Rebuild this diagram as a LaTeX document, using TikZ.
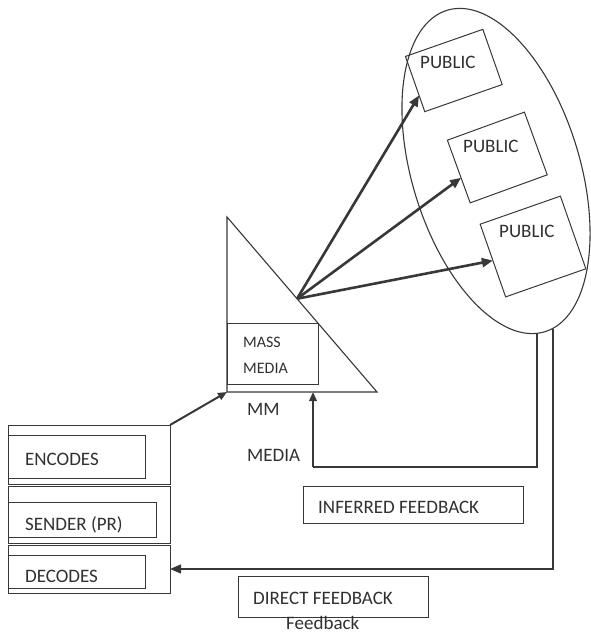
\documentclass[tikz,border=0pt]{standalone}
\usepackage{fontspec}
\setmainfont{Carlito}
\usetikzlibrary{arrows.meta,calc,shapes.geometric}
\definecolor{ink}{HTML}{383838}
\definecolor{txt}{HTML}{303030}
\begin{document}
\begin{tikzpicture}[x=1pt,y=-1pt,
  lbl/.style={font=\fontsize{19}{22}\selectfont, text=txt, inner sep=0pt, anchor=base west},
  smalllbl/.style={font=\fontsize{16}{19}\selectfont, text=txt, inner sep=0pt, anchor=base west},
  box/.style={draw=ink, line width=1pt, inner sep=0pt, outer sep=0pt},
  thinline/.style={draw=ink, line width=1.1pt},
  bigarrow/.style={draw=ink, line width=2.6pt, -{Triangle[length=11pt,width=9pt]}},
  midarrow/.style={draw=ink, line width=2pt, -{Triangle[length=9pt,width=7.5pt]}},
  fbarrow/.style={draw=ink, line width=1.4pt, -{Triangle[length=11pt,width=9pt]}}
]
\useasboundingbox (0,0) rectangle (591,634);

% ---- sender column ----
\node[box, minimum width=162pt, minimum height=59pt] (cell1) at (89,454.5) {};
\node[box, minimum width=162pt, minimum height=57pt] (cell2) at (89,514.5) {};
\node[box, minimum width=162pt, minimum height=48pt] (cell3) at (89,569) {};
\node[box, minimum width=137pt, minimum height=43pt] (enc) at (76.5,456.5) {};
\node[box, minimum width=148pt, minimum height=35pt] (snd) at (82,519.5) {};
\node[box, minimum width=137pt, minimum height=33pt] (dec) at (76.5,571.5) {};
\node[lbl] (encT) at (25,465) {ENCODES};
\node[lbl] (sndT) at (25,530) {SENDER (PR)};
\node[lbl] (decT) at (25,582) {DECODES};

% ---- mass media triangle ----
\coordinate (tt) at (227,217);
\coordinate (tbl) at (227,392);
\coordinate (tbr) at (377,392);
\draw[thinline] (tt) -- (tbl) -- (tbr) -- cycle;
\node[box, minimum width=91pt, minimum height=61pt] (mm) at (272.5,353.5) {};
\node[smalllbl] (mmT1) at (243,347) {MASS};
\node[smalllbl] (mmT2) at (243,373) {MEDIA};
\node[lbl] (mmLbl) at (247,415) {MM};
\node[lbl] (mediaLbl) at (247,461) {MEDIA};
\coordinate (src) at ($(tt)!0.467!(tbr)$);

% ---- publics ----
\node[draw=ink, line width=1.1pt, ellipse, minimum width=168pt, minimum height=336pt,
      rotate=16.9, inner sep=0pt] (crowd) at (496,171) {};
\node[box, minimum width=82pt, minimum height=58.5pt, rotate=19.3] (pub1) at (453.8,70.5) {};
\node[box, minimum width=82pt, minimum height=66.7pt, rotate=20] (pub2) at (497.3,157.5) {};
\node[box, minimum width=85pt, minimum height=77pt, rotate=19.3] (pub3) at (533,246.5) {};
\node[lbl] (p1T) at (420,68) {PUBLIC};
\node[lbl] (p2T) at (463,152) {PUBLIC};
\node[lbl] (p3T) at (499,237) {PUBLIC};

\draw[bigarrow] (src) -- ($(pub1.west)!0.41!(pub1.south west)$);
\draw[bigarrow] (src) -- ($(pub2.west)!0.2!(pub2.south west)$);
\draw[bigarrow] (src) -- (pub3.west);

% ---- sender to media ----
\draw[midarrow] (cell1.north east) -- (tbl);

% ---- feedback ----
\node[box, minimum width=220pt, minimum height=37pt] (inf) at (413,504.5) {};
\node[lbl] (infT) at (318,513) {INFERRED FEEDBACK};
\node[box, minimum width=190pt, minimum height=41pt] (dir) at (333,596.5) {};
\node[lbl] (dirT) at (253,604) {DIRECT FEEDBACK};
\node[lbl] (fbT) at (286,629.5) {Feedback};

\coordinate (fbA) at (537,333);
\coordinate (fbB) at (553,329);
\coordinate (ret) at (313,467);
\draw[thinline] (fbA) |- (ret);
\draw[midarrow] (ret) -- (ret |- tbl);
\draw[fbarrow] (fbB) |- (cell3.east);
\end{tikzpicture}
\end{document}
